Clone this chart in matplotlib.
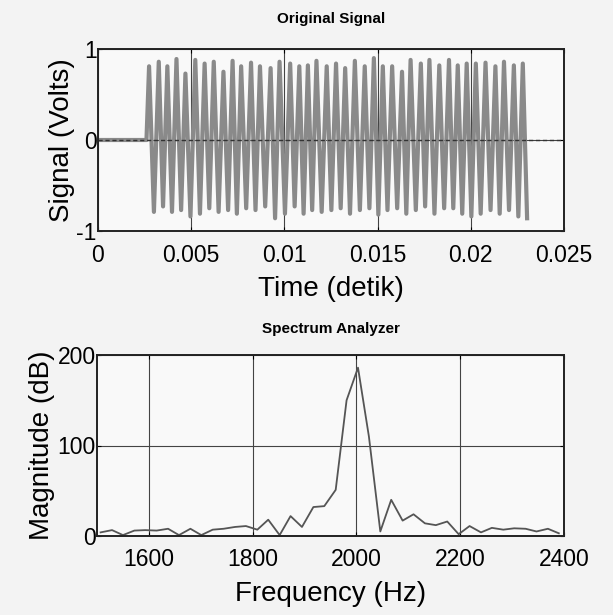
import numpy as np
import matplotlib.pyplot as plt

plt.rcParams['font.family'] = ['Liberation Sans', 'DejaVu Sans']
plt.rcParams['axes.unicode_minus'] = False

# ---- original signal: flat start, then peaks / troughs
lead_t = [0.0, 0.0026]
lead_v = [0.0, 0.0]

peak_t = [0.00274, 0.00326, 0.00372, 0.00421, 0.00469, 0.00522, 0.00572, 0.00621,
          0.00673, 0.00722, 0.00768, 0.00821, 0.00869, 0.00926, 0.00974, 0.01031,
          0.01080, 0.01126, 0.01172, 0.01227, 0.01277, 0.01326, 0.01378, 0.01431,
          0.01480, 0.01528, 0.01578, 0.01631, 0.01677, 0.01732, 0.01778, 0.01831,
          0.01883, 0.01930, 0.01978, 0.02027, 0.02079, 0.02132, 0.02178, 0.02231,
          0.02279]
peak_v = [0.81, 0.86, 0.81, 0.89, 0.73, 0.88, 0.84, 0.86, 0.75, 0.87, 0.81, 0.85,
          0.81, 0.79, 0.86, 0.84, 0.81, 0.82, 0.87, 0.81, 0.84, 0.79, 0.87, 0.81,
          0.90, 0.81, 0.81, 0.75, 0.88, 0.84, 0.88, 0.82, 0.88, 0.82, 0.84, 0.84,
          0.85, 0.81, 0.86, 0.82, 0.84]

trough_t = [0.00300, 0.00349, 0.00397, 0.00446, 0.00496, 0.00547, 0.00597, 0.00647,
            0.00698, 0.00745, 0.00795, 0.00845, 0.00897, 0.00950, 0.01003, 0.01055,
            0.01103, 0.01149, 0.01200, 0.01252, 0.01302, 0.01352, 0.01405, 0.01456,
            0.01504, 0.01553, 0.01605, 0.01654, 0.01705, 0.01755, 0.01805, 0.01857,
            0.01906, 0.01954, 0.02003, 0.02053, 0.02106, 0.02155, 0.02205, 0.02255,
            0.02302]
trough_v = [-0.79, -0.73, -0.79, -0.77, -0.84, -0.81, -0.75, -0.79, -0.77, -0.81,
            -0.75, -0.77, -0.73, -0.86, -0.81, -0.73, -0.81, -0.77, -0.79, -0.77,
            -0.75, -0.81, -0.77, -0.75, -0.82, -0.77, -0.75, -0.81, -0.77, -0.73,
            -0.81, -0.75, -0.75, -0.81, -0.84, -0.81, -0.77, -0.81, -0.77, -0.84,
            -0.86]

# ---- spectrum
freq = [1507, 1529, 1550, 1572, 1593, 1615, 1637, 1658, 1680, 1701, 1723, 1744,
        1766, 1787, 1809, 1830, 1852, 1873, 1895, 1917, 1938, 1960, 1981, 2003,
        2024, 2046, 2067, 2089, 2110, 2132, 2153, 2175, 2197, 2218, 2240, 2261,
        2283, 2304, 2326, 2347, 2369, 2390]
mag = [4, 6.5, 1, 6, 6.5, 6, 8, 1, 8, 1, 7, 8,
       10, 11, 7, 18, 1, 22, 10, 32, 33, 51, 150, 186,
       110, 5, 40, 17, 24, 14, 12, 16, 2, 11, 4, 9,
       7, 8.5, 8, 5, 8, 3]

sig = sorted(zip(peak_t + trough_t, peak_v + trough_v))
t = lead_t + [p[0] for p in sig]
v = lead_v + [p[1] for p in sig]

fig = plt.figure(figsize=(6.13, 6.15), dpi=100, facecolor='#f3f3f3')
ax1 = fig.add_axes([98/613, 1-231/615, 466/613, 182/615])
ax2 = fig.add_axes([97/613, 1-536/615, 467/613, 181/615])

for ax in (ax1, ax2):
    ax.set_facecolor('#f9f9f9')
    ax.grid(True, color='#444444', linewidth=0.8)
    ax.set_axisbelow(True)
    for s in ax.spines.values():
        s.set_linewidth(1.4)
        s.set_color('#222222')
    ax.tick_params(direction='in', length=3, labelsize=16.5,
                   top=True, right=True)
    ax.tick_params(axis='x', pad=9)
    ax.tick_params(axis='y', pad=1)

ax1.plot(t, v, color='#8a8a8a', linewidth=3.0)
ax1.axhline(0, color='#333333', linewidth=1, linestyle=(0, (3, 2)))
ax1.set_xlim(0, 0.025)
ax1.set_ylim(-1, 1)
ax1.set_xticks([0, 0.005, 0.01, 0.015, 0.02, 0.025])
ax1.set_xticklabels(['0', '0.005', '0.01', '0.015', '0.02', '0.025'])
ax1.set_yticks([-1, 0, 1])
ax1.set_title('Original Signal', fontsize=11, fontweight='bold', pad=19)
ax1.set_xlabel('Time (detik)', fontsize=20, labelpad=7)
ax1.set_ylabel('Signal (Volts)', fontsize=20, labelpad=1)

ax2.plot(freq, mag, color='#555555', linewidth=1.3)
ax2.set_xlim(1500, 2400)
ax2.set_ylim(0, 200)
ax2.set_xticks([1600, 1800, 2000, 2200, 2400])
ax2.set_yticks([0, 100, 200])
ax2.set_title('Spectrum Analyzer', fontsize=11, fontweight='bold', pad=16)
ax2.set_xlabel('Frequency (Hz)', fontsize=20, labelpad=7)
ax2.set_ylabel('Magnitude (dB)', fontsize=20, labelpad=2)

fig.savefig('out.png', dpi=100, facecolor=fig.get_facecolor())
